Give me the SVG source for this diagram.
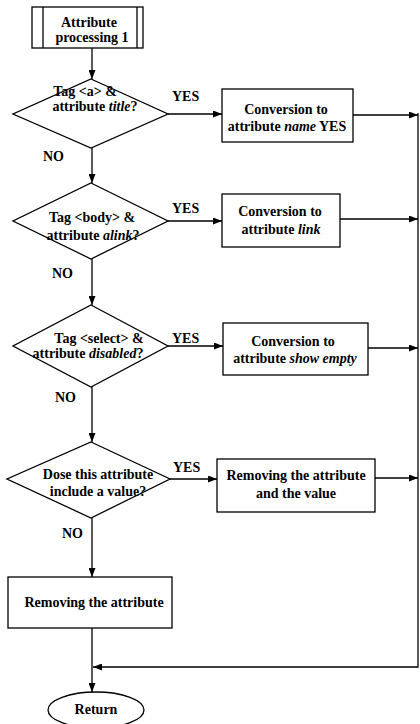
<svg xmlns="http://www.w3.org/2000/svg" width="420" height="724" viewBox="0 0 420 724">
  <style>
    .shape { fill: #ffffff; stroke: #000000; stroke-width: 1.3; }
    .line { fill: none; stroke: #000000; stroke-width: 1.3; }
    text { font-family: "Liberation Serif", "Times New Roman", serif; font-weight: bold; font-size: 14px; fill: #000000; }
    .c { text-anchor: middle; }
    .i { font-style: italic; }
  </style>
  <defs>
    <marker id="arrow" markerUnits="userSpaceOnUse" markerWidth="9" markerHeight="7" refX="9" refY="3.5" orient="auto">
      <path d="M0,0 L9,3.5 L0,7 z" fill="#000000"/>
    </marker>
  </defs>

  <rect width="420" height="724" fill="#ffffff"/>

  <!-- connectors -->
  <g id="connectors" class="line">
    <path d="M92 48 V79" marker-end="url(#arrow)"/>
    <path d="M168 114 H222" marker-end="url(#arrow)"/>
    <path d="M353 115 H418" marker-end="url(#arrow)"/>
    <path d="M92 148 V183" marker-end="url(#arrow)"/>
    <path d="M168 221 H222" marker-end="url(#arrow)"/>
    <path d="M340 219 H418" marker-end="url(#arrow)"/>
    <path d="M92 259 V305" marker-end="url(#arrow)"/>
    <path d="M168 346 H223" marker-end="url(#arrow)"/>
    <path d="M368 348 H418" marker-end="url(#arrow)"/>
    <path d="M92 387 V442" marker-end="url(#arrow)"/>
    <path d="M170 479 H217" marker-end="url(#arrow)"/>
    <path d="M375 478 H418" marker-end="url(#arrow)"/>
    <path d="M92 518 V577" marker-end="url(#arrow)"/>
    <path d="M418 113 V667 H93" marker-end="url(#arrow)"/>
    <path d="M92 628 V692" marker-end="url(#arrow)"/>
  </g>

  <!-- branch labels -->
  <g id="labels">
    <text x="172" y="101">YES</text>
    <text x="43" y="161">NO</text>
    <text x="172" y="213">YES</text>
    <text x="52" y="278">NO</text>
    <text x="172" y="343">YES</text>
    <text x="55" y="402">NO</text>
    <text x="173" y="472">YES</text>
    <text x="62" y="538">NO</text>
  </g>

  <!-- start: predefined process -->
  <g id="start">
    <rect class="shape" x="32" y="7" width="111" height="41"/>
    <line class="line" x1="43" y1="7" x2="43" y2="48"/>
    <line class="line" x1="137" y1="7" x2="137" y2="48"/>
    <text class="c" x="89" y="27">Attribute</text>
    <text class="c" x="92" y="42">processing 1</text>
  </g>

  <!-- decisions -->
  <g id="decision-a-title">
    <polygon class="shape" points="91,79 168,114 91,148 13,114"/>
    <text class="c" x="85" y="96">Tag &lt;a&gt; &amp;</text>
    <text class="c" x="95" y="111">attribute <tspan class="i">title</tspan>?</text>
  </g>

  <g id="decision-body-alink">
    <polygon class="shape" points="91,183 168,221 91,259 13,221"/>
    <text class="c" x="92" y="222">Tag &lt;body&gt; &amp;</text>
    <text class="c" x="93" y="240">attribute <tspan class="i">alink</tspan>?</text>
  </g>

  <g id="decision-select-disabled">
    <polygon class="shape" points="91,305 168,346 91,387 13,346"/>
    <text class="c" x="99" y="343">Tag &lt;select&gt; &amp;</text>
    <text class="c" x="88" y="358">attribute <tspan class="i">disabled</tspan>?</text>
  </g>

  <g id="decision-value">
    <polygon class="shape" points="91,442 170,479 91,518 7,479"/>
    <text class="c" x="98" y="479">Dose this attribute</text>
    <text class="c" x="98" y="496">include a value?</text>
  </g>

  <!-- processes -->
  <g id="convert-name">
    <rect class="shape" x="222" y="89" width="131" height="53"/>
    <text class="c" x="286" y="114">Conversion to</text>
    <text class="c" x="287" y="131">attribute <tspan class="i">name</tspan> YES</text>
  </g>

  <g id="convert-link">
    <rect class="shape" x="222" y="194" width="118" height="53"/>
    <text class="c" x="280" y="216">Conversion to</text>
    <text class="c" x="281" y="234">attribute <tspan class="i">link</tspan></text>
  </g>

  <g id="convert-show-empty">
    <rect class="shape" x="223" y="323" width="145" height="52"/>
    <text class="c" x="293" y="346">Conversion to</text>
    <text class="c" x="295" y="363">attribute <tspan class="i">show empty</tspan></text>
  </g>

  <g id="remove-attribute-value">
    <rect class="shape" x="217" y="459" width="158" height="53"/>
    <text class="c" x="296" y="480">Removing the attribute</text>
    <text class="c" x="296" y="498">and the value</text>
  </g>

  <g id="remove-attribute">
    <rect class="shape" x="8" y="577" width="164" height="51"/>
    <text class="c" x="94" y="607">Removing the attribute</text>
  </g>

  <!-- terminator -->
  <g id="return">
    <ellipse class="shape" cx="96" cy="710" rx="48" ry="18"/>
    <text class="c" x="96" y="714">Return</text>
  </g>
</svg>
